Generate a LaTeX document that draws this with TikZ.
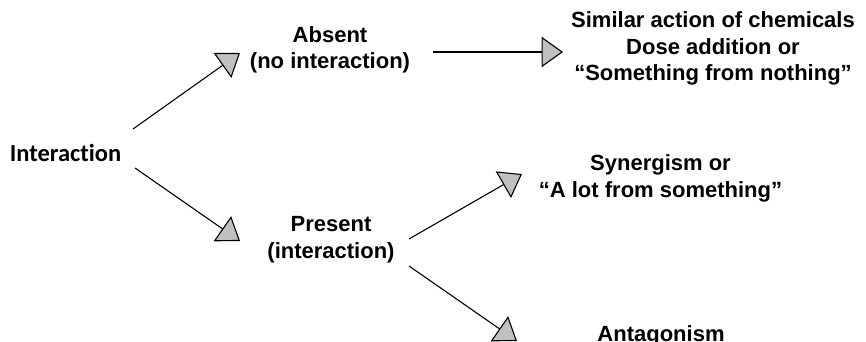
\documentclass[tikz,border=0pt]{standalone}
\usepackage{fontspec}
\setmainfont{Liberation Sans}
\newfontfamily\calibri[Ligatures=NoCommon]{Carlito}
\usetikzlibrary{arrows.meta}
\definecolor{headgray}{RGB}{192,192,192}
\tikzset{
  lbl/.style={font=\bfseries\fontsize{22}{26.5}\selectfont, align=center, inner sep=0pt},
  rootlbl/.style={font=\calibri\bfseries\fontsize{24.5}{29}\selectfont, inner sep=0pt},
  arr/.style={line width=1.1pt, -{Triangle[length=21.5pt,width=30.5pt,fill=headgray]}}
}
\begin{document}
\begin{tikzpicture}[x=1pt,y=-1pt]
  \useasboundingbox (0,0) rectangle (866,342);
  % labels (base = last line)
  \node[rootlbl, anchor=base] (inter) at (65.5,161) {Interaction};
  \node[lbl, anchor=base] (absent) at (330,69) {Absent\\(no interaction)};
  \node[lbl, anchor=base] (present) at (331,258) {Present\\(interaction)};
  \node[lbl, anchor=base] (similar) at (713,81) {Similar action of chemicals\\Dose addition or\\“Something from nothing”};
  \node[lbl, anchor=base] (synerg) at (660.5,197) {Synergism or\\“A lot from something”};
  \node[lbl, anchor=base] (antag) at (661,341.7) {Antagonism};
  % arrow ends
  \coordinate (inter-up) at (133,129);
  \coordinate (inter-dn) at (135,168);
  \coordinate (absent-in) at (240,53);
  \coordinate (absent-out) at (433,52);
  \coordinate (present-in) at (240,241);
  \coordinate (present-up) at (409,239);
  \coordinate (present-dn) at (409,266);
  \coordinate (similar-in) at (563,52);
  \coordinate (synerg-in) at (522,174);
  \coordinate (antag-in) at (517,341);
  % arrows
  \draw[arr] (inter-up) -- (absent-in);
  \draw[arr] (inter-dn) -- (present-in);
  \draw[arr] (absent-out) -- (similar-in);
  \draw[arr] (present-up) -- (synerg-in);
  \draw[arr] (present-dn) -- (antag-in);
\end{tikzpicture}
\end{document}
